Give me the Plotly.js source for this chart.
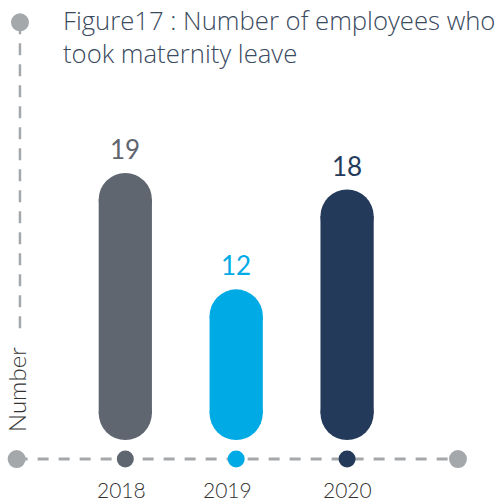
<!DOCTYPE html>
<html>
<head>
<meta charset="utf-8">
<script src="https://cdn.plot.ly/plotly-3.0.1.min.js"></script>
<style>
html,body{margin:0;padding:0;background:#fff;}
#chart{width:499px;height:504px;}
</style>
</head>
<body>
<div id="chart"></div>
<script>
// ---- data ----
const years = [2018, 2019, 2020];
const tickLabels = ["2018", "2019", "2020"];
const employees = [19, 12, 18];
const barColors = ["#5f6670", "#00aae4", "#243a5a"];

// ---- decoration constants ----
const axisStart = 2017.02, axisEnd = 2021;
const axisLevel = 1.8;      // y value of the horizontal dashed axis
const barBottom = 2.95;     // y value where the pills end
const vAxisX = 2017.05, vAxisTop = 28.05, vAxisBottom = 9.6;
const axisGray = "#a5a8ab";
const tickShift = [-4, -9, 0];

const W = 499, H = 504;
const xRange = [2016.87, 2021.37];
const yRange = [-0.9, 29.39];
const barWidth = 0.48;                                   // data units
const capPx = barWidth * W / (xRange[1] - xRange[0]);    // pill diameter in px
const capR = (capPx / 2) * (yRange[1] - yRange[0]) / H;  // pill radius in y units

const traces = [];

// vertical dashed axis
traces.push({
  x: [vAxisX, vAxisX], y: [vAxisTop, vAxisBottom], mode: "lines", type: "scatter",
  line: {color: axisGray, width: 2.5, dash: "12px,9px"}, hoverinfo: "skip", cliponaxis: false
});
traces.push({
  x: [vAxisX], y: [vAxisTop], mode: "markers", type: "scatter",
  marker: {size: 18, color: axisGray}, hoverinfo: "skip", cliponaxis: false
});

// horizontal dashed axis
traces.push({
  x: [axisStart, axisEnd], y: [axisLevel, axisLevel], mode: "lines", type: "scatter",
  line: {color: axisGray, width: 3, dash: "11px,10px"}, hoverinfo: "skip", cliponaxis: false
});
traces.push({
  x: [axisStart, axisEnd], y: [axisLevel, axisLevel], mode: "markers", type: "scatter",
  marker: {size: 18, color: axisGray}, hoverinfo: "skip", cliponaxis: false
});
traces.push({
  x: years, y: years.map(() => axisLevel), mode: "markers", type: "scatter",
  marker: {size: 17, color: barColors}, hoverinfo: "skip", cliponaxis: false
});

// pill bars: straight body + round caps
traces.push({
  type: "bar", x: years,
  base: years.map(() => barBottom + capR),
  y: employees.map(v => (v - capR) - (barBottom + capR)),
  width: barWidth, marker: {color: barColors, line: {width: 0}},
  hoverinfo: "skip"
});
traces.push({
  type: "scatter", mode: "markers", x: years, y: employees.map(v => v - capR),
  marker: {size: capPx, color: barColors, line: {width: 0}}, hoverinfo: "skip", cliponaxis: false
});
traces.push({
  type: "scatter", mode: "markers", x: years, y: years.map(() => barBottom + capR),
  marker: {size: capPx, color: barColors, line: {width: 0}}, hoverinfo: "skip", cliponaxis: false
});

const annotations = [];
years.forEach((yr, i) => {
  annotations.push({
    x: yr, y: employees[i], xref: "x", yref: "y", text: String(employees[i]),
    showarrow: false, yanchor: "middle", yshift: 24,
    font: {family: "Lato, 'Open Sans', sans-serif", size: 26, color: barColors[i]}
  });
  annotations.push({
    x: yr, y: axisLevel, xref: "x", yref: "y", text: tickLabels[i],
    showarrow: false, yanchor: "middle", yshift: -30, xshift: tickShift[i], borderpad: 0,
    font: {family: "Lato, 'Open Sans', sans-serif", size: 21, color: "#333333", weight: 300}
  });
});
annotations.push({
  x: 16/W, y: 1 - 390/H, xref: "paper", yref: "paper", text: "Number",
  textangle: -90, showarrow: false, xanchor: "center", yanchor: "middle",
  font: {family: "Lato, 'Open Sans', sans-serif", size: 24, color: "#333333", weight: 300}
});

const layout = {
  width: W, height: H,
  margin: {l: 0, r: 0, t: 0, b: 0},
  paper_bgcolor: "#ffffff", plot_bgcolor: "#ffffff",
  showlegend: false,
  barmode: "overlay",
  title: {
    text: "Figure17 : Number of employees who<br>took maternity leave",
    x: 63/W, xanchor: "left", xref: "paper",
    y: 1 - 30/H, yanchor: "top", yref: "paper",
    font: {family: "'Open Sans', Lato, sans-serif", size: 25.7, color: "#3a4a60", weight: 300}
  },
  xaxis: {range: xRange, visible: false, fixedrange: true},
  yaxis: {range: yRange, visible: false, fixedrange: true},
  annotations: annotations
};

Plotly.newPlot("chart", traces, layout, {displayModeBar: false, staticPlot: true});
</script>
</body>
</html>
